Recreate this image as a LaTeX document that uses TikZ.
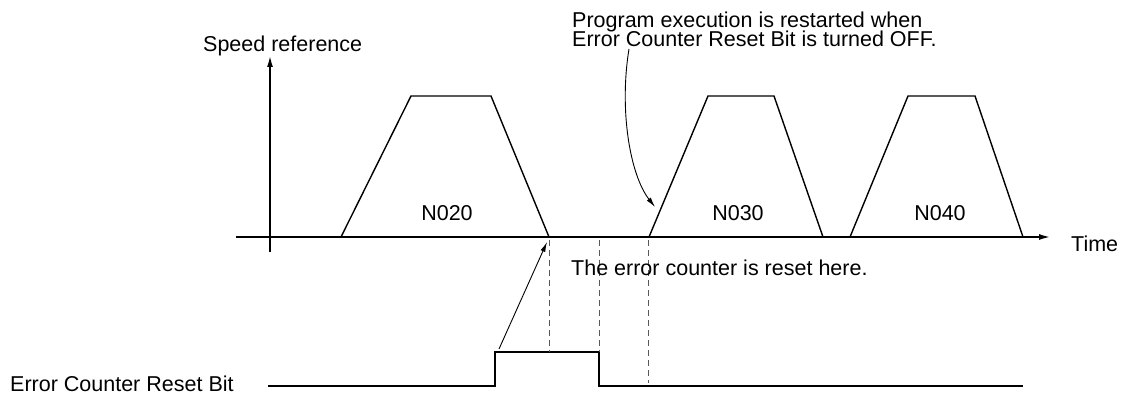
\documentclass[tikz,border=0pt]{standalone}
\usepackage{fontspec}
\setmainfont{Liberation Sans}
\usetikzlibrary{arrows.meta}
\begin{document}
\begin{tikzpicture}[x=1pt,y=-1pt,
  txt/.style={inner sep=0pt, font=\fontsize{21.5}{18}\selectfont},
  axisline/.style={line width=1.4pt, -{Latex[length=11pt,width=6pt]}},
  profile/.style={line width=1.4pt, line join=miter},
  pulseline/.style={line width=2pt, line join=miter},
  guide/.style={line width=0.9pt, dash pattern=on 6pt off 4pt, draw=black!65},
  note/.style={line width=0.9pt, -{Latex[length=10pt,width=5pt]}}]
\useasboundingbox (0,0) rectangle (1122,395);

% axes
\coordinate (xs) at (236,237);
\coordinate (xe) at (1050,237);
\coordinate (ys) at (270,252);
\coordinate (ye) at (270,56);
\draw[axisline] (xs) -- (xe);
\draw[axisline] (ys) -- (ye);

% speed profiles
\coordinate (a1) at (341,237); \coordinate (b1) at (411,96);
\coordinate (c1) at (491,96);  \coordinate (d1) at (549,237);
\coordinate (a2) at (649,237); \coordinate (b2) at (708,96);
\coordinate (c2) at (774,96);  \coordinate (d2) at (823,237);
\coordinate (a3) at (850,237); \coordinate (b3) at (908,96);
\coordinate (c3) at (975,96);  \coordinate (d3) at (1023,237);
\draw[profile] (a1) -- (b1) -- (c1) -- (d1);
\draw[profile] (a2) -- (b2) -- (c2) -- (d2);
\draw[profile] (a3) -- (b3) -- (c3) -- (d3);

% reset bit pulse
\coordinate (p0) at (268,386);
\coordinate (p1) at (495,386);
\coordinate (p2) at (495,352);
\coordinate (p3) at (599,352);
\coordinate (p4) at (599,386);
\coordinate (p5) at (1023,386);
\draw[pulseline] (p0) -- (p1) -- (p2) -- (p3) -- (p4) -- (p5);

% dashed guides
\coordinate (g1t) at (549,240); \coordinate (g1b) at (549,352);
\coordinate (g2t) at (599,240); \coordinate (g2b) at (599,352);
\coordinate (g3t) at (648,240); \coordinate (g3b) at (648,383);
\draw[guide] (g1t) -- (g1b);
\draw[guide] (g2t) -- (g2b);
\draw[guide] (g3t) -- (g3b);

% labels
\node[txt, anchor=base west] (speed) at (203,52) {Speed reference};
\node[txt, anchor=base west] (time) at (1071,252) {Time};
\node[txt, anchor=base] (n020) at (447,221) {N020};
\node[txt, anchor=base] (n030) at (738,221) {N030};
\node[txt, anchor=base] (n040) at (940,221) {N040};
\node[txt, anchor=base west] (reset) at (571,276) {The error counter is reset here.};
\node[txt, anchor=base west] (bit) at (10,391) {Error Counter Reset Bit};
\node[txt, anchor=base west] (prog1) at (572,28) {Program execution is restarted when};
\node[txt, anchor=base west] (prog2) at (572,47) {Error Counter Reset Bit is turned OFF.};

% annotation arrows
\coordinate (n1s) at (499,349);
\coordinate (n1e) at (547,242);
\draw[note] (n1s) -- (n1e);
\coordinate (n2s) at (629,49);
\coordinate (n2e) at (655,207);
\draw[note] (n2s) .. controls (619,110) and (630,175) .. (n2e);
\end{tikzpicture}
\end{document}
